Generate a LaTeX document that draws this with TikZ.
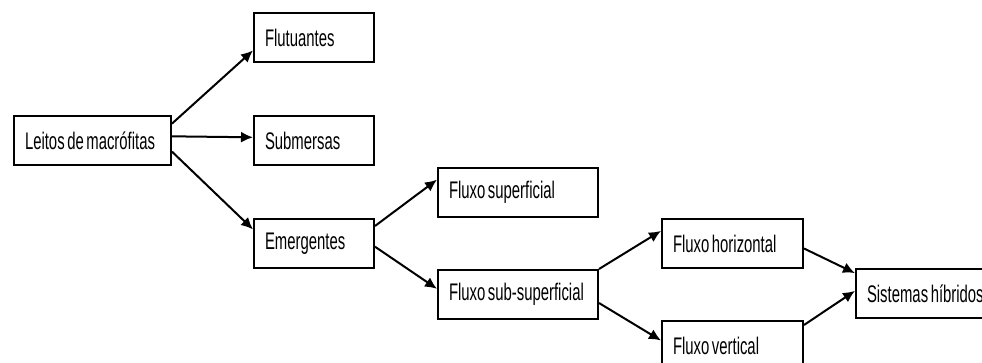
\documentclass[tikz,border=0pt]{standalone}
\usepackage{fontspec}
\setmainfont{Liberation Sans}[FakeStretch=0.62, WordSpace=0.62]
\usetikzlibrary{arrows.meta, calc, positioning}

\begin{document}
\begin{tikzpicture}[
    x=1pt, y=-1pt,
    font=\fontsize{24}{28}\selectfont,
    node distance=52pt and 62pt,
    box/.style={
        draw,
        line width=2pt,
        minimum height=49pt,
        inner xsep=11pt,
        text width=#1,
        align=flush left
    },
    link/.style={line width=2pt, -{Latex[length=12pt, width=11pt]}}
]
\useasboundingbox (0,0) rectangle (982,363);

% Macrophyte types
\node[box=135pt] (leitos) at (92.5,140.5) {Leitos de macrófitas};
\node[box=98pt] (submersas) [right=81pt of leitos] {Submersas};
\node[box=98pt] (flutuantes) [above=of submersas] {Flutuantes};
\node[box=98pt] (emergentes) [below=of submersas] {Emergentes};

% Flow types
\node[box=138pt] (superficial) [above right=0pt and 62pt of emergentes] {Fluxo superficial};
\node[box=138pt] (subsuperficial) [below right=0pt and 62pt of emergentes] {Fluxo sub-superficial};
\node[box=119pt] (horizontal) [above right=0pt and 62pt of subsuperficial] {Fluxo horizontal};
\node[box=128pt, anchor=west] (hibridos) at ($(horizontal.east)+(51,50)$) {Sistemas híbridos};
\node[box=119pt] (vertical) [below right=0pt and 62pt of subsuperficial] {Fluxo vertical};

% Edges
\draw[link] (leitos.12) -- (flutuantes.192);
\draw[link] (leitos.3) -- (submersas.177);
\draw[link] (leitos.-8) -- (emergentes.167);
\draw[link] (emergentes.16) -- (superficial.171);
\draw[link] (emergentes.-3) -- (subsuperficial.176);
\draw[link] (subsuperficial.north east) -- (horizontal.170);
\draw[link] (subsuperficial.-6) -- (vertical.176);
\draw[link] (horizontal.-4) -- (hibridos.165);
\draw[link] (vertical.16) -- (hibridos.178);

\end{tikzpicture}
\end{document}
